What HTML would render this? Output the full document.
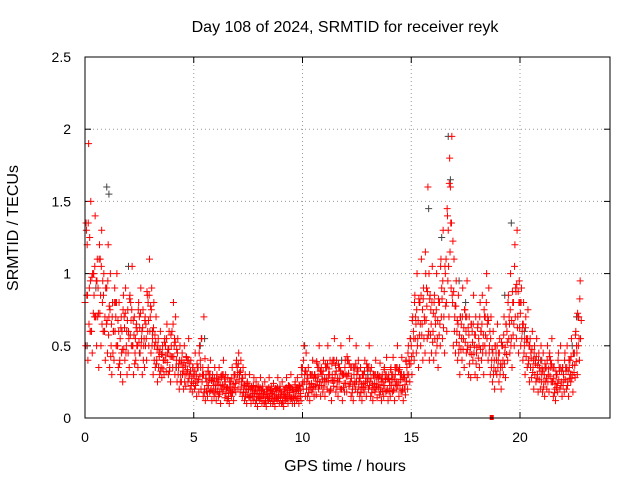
<!DOCTYPE html>
<html><head><meta charset="utf-8"><style>
body{margin:0;background:#fff;width:640px;height:480px;overflow:hidden}
svg text{font-family:"Liberation Sans",sans-serif;font-size:14px;fill:#000}
</style></head><body>
<svg id="chart" width="640" height="480" xmlns="http://www.w3.org/2000/svg">
<text x="345" y="32" text-anchor="middle" style="font-size:16px">Day 108 of 2024, SRMTID for receiver reyk</text>
<text x="345" y="471" text-anchor="middle" style="font-size:16px">GPS time / hours</text>
<text transform="translate(18,228) rotate(-90)" text-anchor="middle" style="font-size:16px">SRMTID / TECUs</text>
<g id="grid"></g>
<g id="ticks"></g>
<g id="marks"></g>
<rect x="85" y="57" width="525" height="361" fill="none" stroke="#000" stroke-width="1"/>
</svg>
<script>
const xTicks=[0,5,10,15,20];
const yTicks=[0,0.5,1,1.5,2,2.5];
const yTickLabels=["0","0.5","1","1.5","2","2.5"];
const seriesA=[0.8,1.2,0.9,0.6,1.0,0.7,0.9,1.1,0.8,0.6,0.9,0.7,0.5,0.6,0.8,0.5,0.4,0.6,0.7,0.5,0.6,0.8,0.5,0.45,0.6,0.7,0.55,0.5,0.65,0.8,0.7,0.55,0.5,0.4,0.45,0.35,0.4,0.5,0.45,0.35,0.6,0.5,0.4,0.35,0.3,0.35,0.3,0.4,0.3,0.25,0.3,0.25,0.35,0.4,0.3,0.2,0.25,0.3,0.2,0.25,0.2,0.25,0.18,0.3,0.22,0.2,0.15,0.25,0.2,0.3,0.35,0.3,0.25,0.2,0.18,0.22,0.15,0.2,0.18,0.15,0.2,0.15,0.18,0.12,0.2,0.15,0.17,0.13,0.2,0.15,0.18,0.12,0.2,0.15,0.22,0.14,0.18,0.2,0.15,0.2,0.35,0.3,0.25,0.2,0.3,0.22,0.28,0.35,0.25,0.3,0.25,0.35,0.3,0.2,0.4,0.3,0.25,0.35,0.2,0.3,0.3,0.4,0.25,0.2,0.35,0.3,0.25,0.2,0.3,0.25,0.35,0.25,0.2,0.3,0.22,0.28,0.2,0.25,0.3,0.2,0.25,0.3,0.2,0.35,0.25,0.3,0.2,0.28,0.35,0.4,0.5,0.6,0.7,0.55,0.8,0.65,0.7,0.9,0.6,0.75,0.6,0.7,0.55,0.8,0.9,0.7,1.1,1.3,1.6,0.8,0.7,0.6,0.5,0.65,0.55,0.7,0.5,0.45,0.6,0.5,0.45,0.55,0.6,0.5,0.7,0.65,0.5,0.4,0.35,0.45,0.4,0.35,0.5,0.45,0.6,0.7,0.55,0.8,0.9,0.7,0.8,0.6,0.5,0.55,0.4,0.45,0.35,0.4,0.3,0.35,0.3,0.25,0.35,0.3,0.4,0.25,0.2,0.3,0.35,0.25,0.3,0.35,0.25,0.4,0.3,0.45,0.5,0.7];
const seriesB=[0.5,0.4,0.6,0.45,0.7,0.5,0.35,0.5,0.6,0.4,0.45,0.35,0.3,0.4,0.5,0.35,0.3,0.25,0.4,0.3,0.35,0.5,0.3,0.4,0.35,0.45,0.3,0.35,0.4,0.5,0.45,0.3,0.35,0.25,0.3,0.28,0.3,0.32,0.3,0.25,0.35,0.3,0.25,0.2,0.25,0.2,0.22,0.25,0.2,0.18,0.2,0.15,0.18,0.2,0.15,0.12,0.15,0.18,0.12,0.15,0.12,0.15,0.1,0.18,0.14,0.12,0.1,0.15,0.12,0.18,0.2,0.18,0.15,0.12,0.1,0.14,0.1,0.12,0.1,0.08,0.12,0.1,0.1,0.08,0.12,0.1,0.1,0.08,0.12,0.1,0.1,0.08,0.12,0.1,0.13,0.1,0.1,0.12,0.1,0.12,0.2,0.15,0.15,0.12,0.18,0.15,0.16,0.2,0.15,0.18,0.15,0.2,0.18,0.12,0.22,0.18,0.15,0.2,0.12,0.18,0.18,0.22,0.15,0.12,0.2,0.18,0.15,0.12,0.18,0.15,0.2,0.15,0.12,0.18,0.14,0.16,0.12,0.15,0.18,0.12,0.15,0.18,0.12,0.2,0.15,0.18,0.12,0.16,0.2,0.25,0.3,0.4,0.45,0.35,0.5,0.4,0.45,0.55,0.4,0.45,0.4,0.45,0.35,0.5,0.55,0.45,0.6,0.7,0.9,0.5,0.45,0.4,0.3,0.4,0.35,0.45,0.3,0.28,0.4,0.3,0.28,0.35,0.4,0.3,0.45,0.4,0.3,0.25,0.2,0.3,0.25,0.2,0.3,0.28,0.4,0.45,0.35,0.5,0.55,0.45,0.5,0.4,0.3,0.35,0.25,0.28,0.2,0.25,0.18,0.2,0.18,0.15,0.2,0.18,0.25,0.15,0.12,0.18,0.2,0.15,0.18,0.2,0.15,0.25,0.18,0.28,0.3,0.4];
const seriesC=[1.3,1.9,1.5,1.0,1.4,1.1,1.2,1.3,1.0,0.9,1.2,1.0,0.8,0.9,1.0,0.8,0.7,0.85,0.9,0.75,0.85,1.05,0.7,0.65,0.8,0.9,0.75,0.7,0.85,1.1,0.9,0.8,0.7,0.55,0.6,0.5,0.55,0.65,0.6,0.5,0.8,0.7,0.55,0.5,0.45,0.5,0.42,0.55,0.4,0.35,0.45,0.35,0.5,0.55,0.7,0.3,0.35,0.4,0.3,0.35,0.3,0.35,0.28,0.4,0.3,0.28,0.22,0.35,0.3,0.4,0.45,0.4,0.35,0.3,0.25,0.3,0.22,0.28,0.25,0.22,0.28,0.22,0.25,0.18,0.28,0.22,0.24,0.2,0.28,0.22,0.25,0.18,0.28,0.22,0.3,0.2,0.25,0.28,0.22,0.3,0.5,0.45,0.35,0.3,0.4,0.3,0.38,0.5,0.35,0.4,0.35,0.5,0.4,0.3,0.55,0.4,0.35,0.5,0.3,0.4,0.4,0.55,0.35,0.3,0.5,0.4,0.35,0.3,0.4,0.35,0.5,0.35,0.3,0.4,0.3,0.38,0.3,0.35,0.42,0.3,0.35,0.42,0.3,0.5,0.35,0.42,0.3,0.4,0.5,0.55,0.7,0.85,1.0,0.8,1.1,0.9,1.0,1.6,0.85,1.05,0.85,1.0,0.8,1.1,1.3,1.0,1.4,1.8,1.95,1.1,0.95,0.85,0.7,0.9,0.75,0.95,0.7,0.65,0.85,0.7,0.65,0.8,0.85,0.7,1.0,0.9,0.7,0.6,0.5,0.65,0.55,0.5,0.7,0.65,0.85,1.0,0.8,1.2,1.3,0.95,0.9,0.8,0.7,0.75,0.55,0.6,0.5,0.55,0.45,0.5,0.45,0.35,0.5,0.45,0.55,0.35,0.3,0.45,0.5,0.35,0.45,0.5,0.35,0.55,0.45,0.6,0.7,0.95];
const grayTimes=[0.1,0.5,1.0,1.1,2.0,2.5,3.1,4.2,5.3,5.5,7.1,9.8,10.1,11.8,13.0,14.5,15.8,16.4,16.7,16.8,17.2,17.5,18.3,19.3,19.6,20.2,21.0,22.4,22.6];
const grayValues=[0.5,0.9,1.6,1.55,1.05,0.45,0.6,0.35,0.5,0.55,0.3,0.2,0.5,0.4,0.3,0.3,1.45,1.25,1.95,1.65,0.95,0.8,0.5,0.85,1.35,0.6,0.4,0.5,0.7];
const startHour=0, stepHour=0.1;

const X=h=>85+h*21.75;
const Y=v=>418-v*144.4;
const NS="http://www.w3.org/2000/svg";
const grid=document.getElementById('grid'),ticks=document.getElementById('ticks'),marks=document.getElementById('marks');
function mk(tag,attrs,parent){const e=document.createElementNS(NS,tag);for(const k in attrs)e.setAttribute(k,attrs[k]);parent.appendChild(e);return e;}
xTicks.forEach(t=>{
  const x=X(t);
  if(t>0){const g=mk('line',{x1:x,x2:x,y1:57,y2:418,stroke:'#999','stroke-dasharray':'1,3'},grid);
  
  }
  mk('line',{x1:x,x2:x,y1:418,y2:412,stroke:'#000'},ticks);
  mk('line',{x1:x,x2:x,y1:57,y2:63,stroke:'#000'},ticks);
  const l=mk('text',{x:x,y:442,'text-anchor':'middle'},ticks);l.textContent=t;
  
  
});
yTicks.forEach((t,i)=>{
  const y=Y(t);
  if(t>0&&t<2.5){const g=mk('line',{x1:85,x2:610,y1:y,y2:y,stroke:'#999','stroke-dasharray':'1,3'},grid);
  
  }
  mk('line',{x1:85,x2:91,y1:y,y2:y,stroke:'#000'},ticks);
  mk('line',{x1:610,x2:604,y1:y,y2:y,stroke:'#000'},ticks);
  const l=mk('text',{x:71,y:y+5,'text-anchor':'end'},ticks);l.textContent=yTickLabels[i];
  
  
});
function plus(h,v,color){
  const x=X(h),y=Y(v);
  const p=mk('path',{d:`M${x-3.5} ${y}H${x+3.5}M${x} ${y-3.5}V${y+3.5}`,stroke:color,'stroke-width':1,fill:'none'},marks);
  
  
}
grayTimes.forEach((t,i)=>plus(t,grayValues[i],'#444'));
[[seriesA,0,seriesC],[seriesB,0.033,seriesA],[seriesC,0.066,seriesB]].forEach(([s,off,o])=>{
  s.forEach((v,i)=>{
    plus(startHour+i*stepHour+off,v,'#f00');
    const j=Math.min(o.length-1,i+1);
    plus(startHour+i*stepHour+off+0.05,(v+o[j])/2,'#f00');
  });
});
const sq=mk('rect',{x:X(18.7)-2,y:415,width:4,height:5,fill:'#f00'},marks);


</script>
</body></html>
